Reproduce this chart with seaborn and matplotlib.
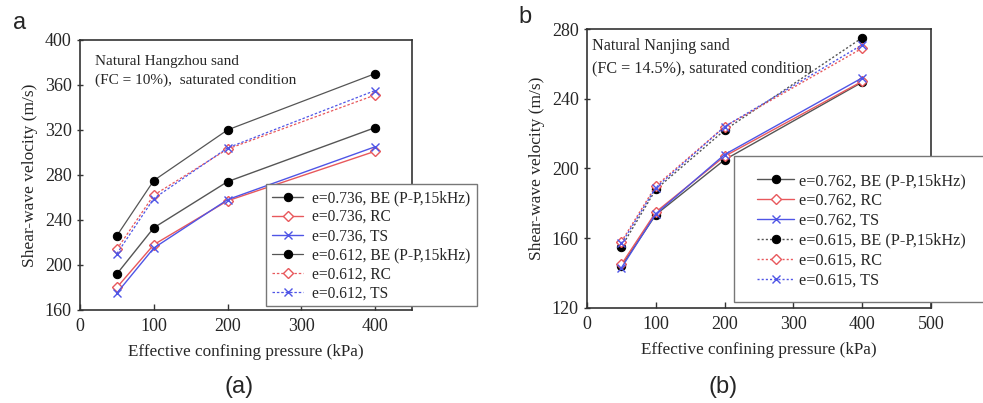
import matplotlib
matplotlib.use("Agg")
import matplotlib.pyplot as plt
from matplotlib.patches import Rectangle
import seaborn as sns
import pandas as pd

# Effective confining pressure (kPa)
pressure = [50, 100, 200, 400]

# Panel a: natural Hangzhou sand, shear-wave velocity (m/s)
hz_labels = ["e=0.736, BE (P-P,15kHz)", "e=0.736, RC", "e=0.736, TS",
             "e=0.612, BE (P-P,15kHz)", "e=0.612, RC", "e=0.612, TS"]
hz_be_736 = [192, 233, 274, 322]
hz_rc_736 = [180, 218, 257, 301]
hz_ts_736 = [175, 215, 258, 305]
hz_be_612 = [226, 275, 320, 370]
hz_rc_612 = [214, 262, 303, 351]
hz_ts_612 = [210, 259, 304, 355]

# Panel b: natural Nanjing sand, shear-wave velocity (m/s)
nj_labels = ["e=0.762, BE (P-P,15kHz)", "e=0.762, RC", "e=0.762, TS",
             "e=0.615, BE (P-P,15kHz)", "e=0.615, RC", "e=0.615, TS"]
nj_be_762 = [144, 173.5, 205, 249.5]
nj_rc_762 = [145, 175, 207, 250]
nj_ts_762 = [143, 174, 208, 252]
nj_be_615 = [155, 188, 222, 275]
nj_rc_615 = [158, 190, 224, 269]
nj_ts_615 = [157, 189, 224, 271]

sns.set_theme(style="ticks")
plt.rcParams["font.family"] = ["Liberation Serif", "DejaVu Serif"]

GRAY = "#555555"
RED = "#e8585c"
BLUE = "#4f55e6"

# style per method: line colour, marker, marker face and edge
method_style = {
    "BE": dict(color=GRAY, marker="o", markerfacecolor="black",
               markeredgecolor="black", markersize=6),
    "RC": dict(color=RED, marker="D", markerfacecolor="white",
               markeredgecolor=RED, markersize=5, markeredgewidth=1.0),
    "TS": dict(color=BLUE, marker="x", markeredgecolor=BLUE,
               markersize=6, markeredgewidth=1.0),
}


def draw_panel(ax, labels, series, loose_ls, loose_lw):
    methods = ["BE", "RC", "TS", "BE", "RC", "TS"]
    for i, (lab, vals, m) in enumerate(zip(labels, series, methods)):
        df = pd.DataFrame({"p": pressure, "v": vals})
        st = dict(method_style[m])
        if i < 3:
            ls, lw = "-", 1.0
        else:
            ls, lw = loose_ls[m], loose_lw
        sns.lineplot(data=df, x="p", y="v", ax=ax, label=lab,
                     linestyle=ls, linewidth=lw, **st)


fig = plt.figure(figsize=(9.83, 4.03), dpi=100)
ax_a = fig.add_axes([0.0814, 0.231, 0.3377, 0.670])
ax_b = fig.add_axes([0.5972, 0.236, 0.3500, 0.692])

draw_panel(ax_a, hz_labels,
           [hz_be_736, hz_rc_736, hz_ts_736, hz_be_612, hz_rc_612, hz_ts_612],
           {"BE": "-", "RC": (0, (2, 1.5)), "TS": (0, (2, 1.5))}, 0.9)
draw_panel(ax_b, nj_labels,
           [nj_be_762, nj_rc_762, nj_ts_762, nj_be_615, nj_rc_615, nj_ts_615],
           {"BE": (0, (1.5, 1.5)), "RC": (0, (1.5, 1.5)), "TS": (0, (1.5, 1.5))}, 1.0)

for ax in (ax_a, ax_b):
    ax.set_xlabel("Effective confining pressure (kPa)", fontsize=12.3, labelpad=6)
    ax.set_ylabel("Shear-wave velocity (m/s)", fontsize=12.5, labelpad=5)
    ax.tick_params(axis="x", direction="in", length=4, width=1.0, color="#333333",
                   labelsize=13, pad=6)
    ax.tick_params(axis="y", direction="inout", length=4, width=1.0, color="#333333",
                   labelsize=13, pad=4)
    for sp in ax.spines.values():
        sp.set_color("#333333")
        sp.set_linewidth(1.2)
        sp.set_visible(True)
    ax.get_legend().remove()

ax_a.set_xlim(0, 450)
ax_a.set_ylim(160, 400)
ax_a.set_xticks([0, 100, 200, 300, 400])
ax_a.set_yticks([160, 200, 240, 280, 320, 360, 400])

ax_b.set_xlim(0, 500)
ax_b.set_ylim(120, 280)
ax_b.set_xticks([0, 100, 200, 300, 400, 500])
ax_b.set_yticks([120, 160, 200, 240, 280])

ax_a.text(0.045, 0.945, "Natural Hangzhou sand\n(FC = 10%),  saturated condition",
          transform=ax_a.transAxes, ha="left", va="top", fontsize=11,
          linespacing=1.6)
ax_b.text(0.015, 0.968, "Natural Nanjing sand\n(FC = 14.5%), saturated condition",
          transform=ax_b.transAxes, ha="left", va="top", fontsize=11.6,
          linespacing=1.55)

# legend boxes are drawn as plain rectangles behind frameless legends
W, H = 983.0, 403.0


def legend_box(x0, y_top, x1, y_bot):
    rect = Rectangle((x0 / W, 1 - y_bot / H), (x1 - x0) / W, (y_bot - y_top) / H,
                     transform=fig.transFigure, facecolor="white",
                     edgecolor="#777777", linewidth=1.0, zorder=3)
    fig.add_artist(rect)


legend_kw = dict(frameon=False, loc="upper left", borderpad=0,
                 borderaxespad=0)

legend_box(266, 184, 477, 306)
h, l = ax_a.get_legend_handles_labels()
fig.legend(h, l, bbox_to_anchor=(272 / W, 1 - 190 / H), fontsize=11.2,
           labelspacing=0.2, handlelength=2.0, handletextpad=0.55, **legend_kw)

legend_box(734, 156, 990, 302)
h, l = ax_b.get_legend_handles_labels()
fig.legend(h, l, bbox_to_anchor=(757 / W, 1 - 173 / H), fontsize=11.7,
           labelspacing=0.24, handlelength=2.3, handletextpad=0.3, **legend_kw)

# panel letters and captions
fig.text(0.013, 0.928, "a", fontsize=17, family="Liberation Sans", ha="left", va="baseline")
fig.text(0.527, 0.943, "b", fontsize=17, family="Liberation Sans", ha="left", va="baseline")
fig.text(0.243, 0.040, "(a)", fontsize=17, family="Liberation Sans", ha="center", va="center")
fig.text(0.736, 0.040, "(b)", fontsize=17, family="Liberation Sans", ha="center", va="center")

fig.savefig("out.png", dpi=100)
